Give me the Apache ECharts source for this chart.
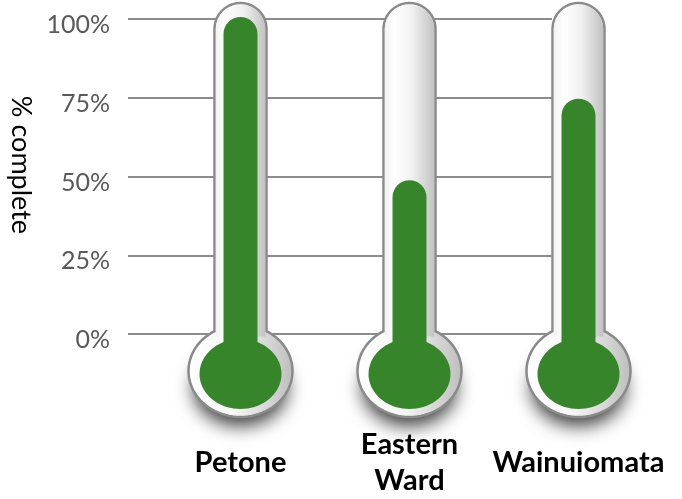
<!DOCTYPE html>
<html>
<head>
<meta charset="utf-8">
<script src="https://cdn.jsdelivr.net/npm/echarts@6/dist/echarts.min.js"></script>
<style>
  html, body { margin: 0; padding: 0; background: #ffffff; }
  #chart { width: 682px; height: 499px; }
</style>
</head>
<body>
<div id="chart"></div>
<script>
// Progress per area, in percent
const categories = ['Petone', 'Eastern\nWard', 'Wainuiomata'];
const percentComplete = [100, 48, 74];
const axisTicks = [0, 25, 50, 75, 100];

const chart = echarts.init(document.getElementById('chart'), null, { renderer: 'canvas' });

const OUTLINE = '#8a8a8a';
const GREEN = '#37852a';

// Builds an ellipse outline as polygon points, from angle a0 to a1 (degrees, y down)
function ellipsePoints(cx, cy, rx, ry, a0, a1, steps) {
  const pts = [];
  for (let i = 0; i <= steps; i++) {
    const t = (a0 + (a1 - a0) * i / steps) * Math.PI / 180;
    pts.push([cx + rx * Math.cos(t), cy + ry * Math.sin(t)]);
  }
  return pts;
}

function renderThermometer(params, api) {
  const idx = api.value(0);
  const val = api.value(1);
  const top = api.coord([idx, val]);
  const full = api.coord([idx, axisTicks[axisTicks.length - 1]]);
  const zero = api.coord([idx, axisTicks[0]]);
  const cx = top[0];

  const tubeHalf = 26;
  const tubeTop = full[1] - 16;          // outer top of the glass tube
  const bulbCy = zero[1] + 38;           // glass bulb centre
  const bulbRx = 52, bulbRy = 46;
  const capCy = tubeTop + tubeHalf;

  // glass outline: rounded tube top + bulb
  const aJ = Math.acos(tubeHalf / bulbRx) * 180 / Math.PI;
  let pts = [];
  pts = pts.concat(ellipsePoints(cx, capCy, tubeHalf, tubeHalf, 180, 360, 24));
  pts = pts.concat(ellipsePoints(cx, bulbCy, bulbRx, bulbRy, -aJ, 180 + aJ, 72));
  const joinY = bulbCy - bulbRy * Math.sin(aJ * Math.PI / 180);

  const glassGrad = new echarts.graphic.LinearGradient(0, 0, 1, 0, [
    { offset: 0, color: '#ffffff' },
    { offset: 0.45, color: '#f6f6f6' },
    { offset: 1, color: '#bdbdbd' }
  ]);
  const tubeGrad = new echarts.graphic.LinearGradient(0, 0, 1, 0, [
    { offset: 0, color: '#f2f2f2' },
    { offset: 0.2, color: '#ffffff' },
    { offset: 0.55, color: '#f1f1f1' },
    { offset: 1, color: '#c2c2c2' }
  ]);

  const greenHalf = 17;
  return {
    type: 'group',
    children: [
      {
        // soft shadow under the bulb
        type: 'polygon',
        shape: { points: ellipsePoints(cx, bulbCy, bulbRx - 5, bulbRy - 8, 0, 360, 60) },
        style: {
          fill: '#ffffff',
          shadowBlur: 18,
          shadowOffsetY: 17,
          shadowColor: 'rgba(0,0,0,0.75)'
        }
      },
      {
        type: 'polygon',
        shape: { points: pts },
        style: { fill: glassGrad, stroke: OUTLINE, lineWidth: 2.5 }
      },
      {
        type: 'rect',
        shape: {
          x: cx - tubeHalf + 1.3,
          y: tubeTop + 1.3,
          width: tubeHalf * 2 - 2.6,
          height: joinY - tubeTop + 4,
          r: [tubeHalf - 1.3, tubeHalf - 1.3, 0, 0]
        },
        style: { fill: tubeGrad }
      },
      {
        type: 'rect',
        shape: {
          x: cx - greenHalf,
          y: top[1] - 2,
          width: greenHalf * 2,
          height: bulbCy - top[1] + 2,
          r: [greenHalf, greenHalf, 0, 0]
        },
        style: { fill: GREEN }
      },
      {
        type: 'polygon',
        shape: { points: ellipsePoints(cx, bulbCy + 3, 41, 35, 0, 360, 72) },
        style: { fill: GREEN }
      }
    ]
  };
}

const option = {
  animation: false,
  backgroundColor: '#ffffff',
  grid: [
    { left: 128, right: 130, top: 19, bottom: 165 },
    { left: 156, right: 19, top: 19, bottom: 165 }
  ],
  xAxis: [
    {
      gridIndex: 0, type: 'category', data: categories, show: false
    },
    {
      gridIndex: 1, type: 'category', data: categories,
      axisLine: { show: false }, axisTick: { show: false },
      axisLabel: {
        interval: 0,
        margin: 130,
        verticalAlign: 'middle',
        color: '#000000',
        fontFamily: 'Lato',
        fontWeight: 'bold',
        fontSize: 29,
        lineHeight: 36
      }
    }
  ],
  yAxis: [
    {
      gridIndex: 0, type: 'value',
      min: axisTicks[0], max: axisTicks[axisTicks.length - 1], interval: 25,
      axisLine: { show: false }, axisTick: { show: false },
      splitLine: { show: true, lineStyle: { color: '#8c8c8c', width: 2 } },
      axisLabel: {
        formatter: '{value}%',
        margin: 18,
        color: '#595959',
        fontFamily: 'Lato',
        fontSize: 25,
        verticalAlign: 'top',
        lineHeight: 12
      }
    },
    {
      gridIndex: 1, type: 'value',
      min: axisTicks[0], max: axisTicks[axisTicks.length - 1], interval: 25,
      show: false
    }
  ],
  graphic: [
    {
      type: 'text',
      x: 21, y: 165,
      rotation: -Math.PI / 2,
      style: {
        text: '% complete',
        fill: '#000000',
        font: '27px Lato',
        align: 'center',
        verticalAlign: 'middle'
      }
    }
  ],
  series: [
    {
      type: 'custom',
      xAxisIndex: 1,
      yAxisIndex: 1,
      clip: false,
      renderItem: renderThermometer,
      data: percentComplete.map((v, i) => [i, v])
    }
  ]
};

chart.setOption(option);
</script>
</body>
</html>
